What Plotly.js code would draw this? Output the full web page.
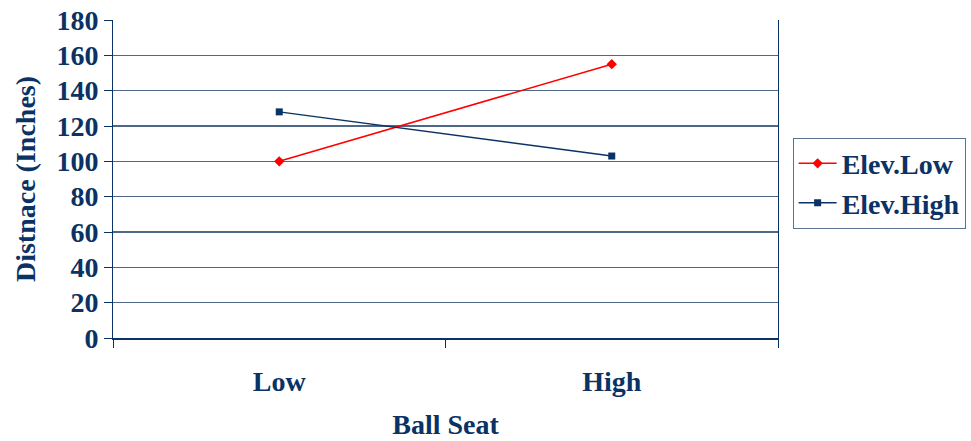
<!DOCTYPE html>
<html><head><meta charset="utf-8">
<script src="https://cdn.plot.ly/plotly-3.0.1.min.js"></script>
<style>html,body{margin:0;padding:0;background:#fff}</style>
</head><body><div id="chart" style="width:971px;height:441px"></div>
<script>
const categories = ["Low", "High"];
const elevLow = [100, 155];
const elevHigh = [128, 103];
const yTicks = [0, 20, 40, 60, 80, 100, 120, 140, 160, 180];

const navy = "#0a3264";
const fontFam = "'Liberation Serif', 'Times New Roman', serif";
const fs = 28;

const traces = [
  {x: categories, y: elevLow, name: "Elev.Low", type: "scatter", mode: "lines+markers",
   line: {color: "#ff0000", width: 1.5}, marker: {symbol: "diamond", size: 8, color: "#ff0000"}},
  {x: categories, y: elevHigh, name: "Elev.High", type: "scatter", mode: "lines+markers",
   line: {color: "#0a3264", width: 1.5}, marker: {symbol: "square", size: 7, color: "#0a3264"}}
];

const layout = {
  width: 971, height: 441,
  margin: {l: 113, r: 193, t: 20, b: 103, autoexpand: false},
  paper_bgcolor: "#fff", plot_bgcolor: "#fff",
  font: {family: fontFam, color: navy, size: fs},
  showlegend: true,
  legend: {x: 1.022, y: 0.63, xanchor: "left", yanchor: "top",
    bordercolor: "#5a7390", borderwidth: 1, bgcolor: "#fff",
    font: {family: fontFam, size: fs, color: navy, weight: "bold"},
    tracegroupgap: 0, itemwidth: 38},
  xaxis: {
    type: "category", range: [-0.5, 1.5], tickson: "boundaries",
    showline: true, linecolor: navy, linewidth: 1.5, mirror: false,
    ticks: "outside", ticklen: 8, tickcolor: navy, tickwidth: 1,
    showgrid: false, zeroline: false,
    tickfont: {family: fontFam, size: fs, color: navy, weight: "bold"},
    ticklabelstandoff: 18,
    title: {text: "Ball Seat", standoff: 18, font: {family: fontFam, size: fs, color: navy, weight: "bold"}}
  },
  yaxis: {
    range: [0, 180], tickvals: yTicks, ticktext: yTicks.map(String),
    showline: true, linecolor: navy, linewidth: 1, mirror: true,
    ticks: "outside", ticklen: 8, tickcolor: navy, tickwidth: 1,
    showgrid: true, gridcolor: "#4d6888", gridwidth: 1.2, zeroline: false,
    tickfont: {family: fontFam, size: fs, color: navy, weight: "bold"},
    title: {text: "Distnace (Inches)", standoff: 12, font: {family: fontFam, size: fs, color: navy, weight: "bold"}}
  }
};

Plotly.newPlot("chart", traces, layout, {displayModeBar: false, staticPlot: true});
</script>
</body></html>
